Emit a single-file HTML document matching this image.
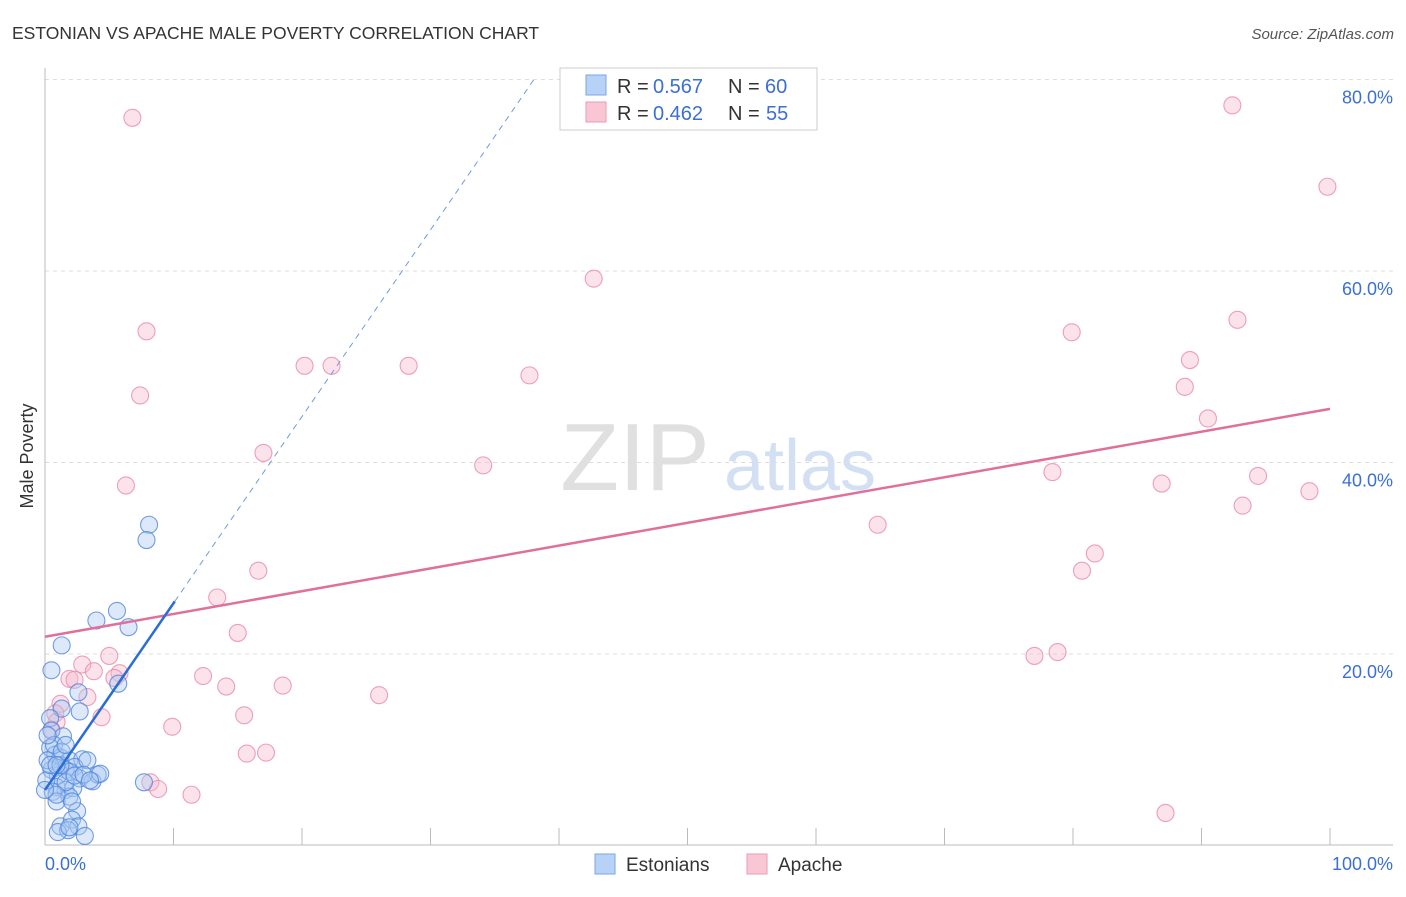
<!DOCTYPE html>
<html><head><meta charset="utf-8"><style>
body{margin:0;background:#fff;font-family:"Liberation Sans",sans-serif}
svg text{font-family:"Liberation Sans",sans-serif}
</style></head><body>
<svg id="c" width="1406" height="892" viewBox="0 0 1406 892">
<text x="12" y="39" font-size="17.5" fill="#333">ESTONIAN VS APACHE MALE POVERTY CORRELATION CHART</text>
<text x="1394" y="39" font-size="15" fill="#555" font-style="italic" text-anchor="end">Source: ZipAtlas.com</text>
<text x="33" y="456" font-size="18" fill="#333" text-anchor="middle" transform="rotate(-90 33 456)">Male Poverty</text>
<g><text x="635" y="490" font-size="96" fill="#e0e0e0" font-family="Liberation Serif" text-anchor="middle">ZIP</text><text x="800" y="490" font-size="72" fill="#d3e0f3" text-anchor="middle">atlas</text></g>
<g id="grid"></g><g id="axes"></g><g id="marks"></g>
<g>
<rect x="560" y="68" width="257" height="62" fill="#fff" stroke="#ccc"/>
<rect x="586" y="75" width="20" height="20" fill="#b8d2f5" stroke="#7aa6e8"/>
<rect x="586" y="102" width="20" height="20" fill="#f9c6d6" stroke="#ee99b6"/>
<text x="617" y="93" font-size="20" fill="#333">R = </text><text x="653" y="93" font-size="20" fill="#3b6fd4">0.567</text>
<text x="728" y="93" font-size="20" fill="#333">N = </text><text x="765" y="93" font-size="20" fill="#3b6fd4">60</text>
<text x="617" y="120" font-size="20" fill="#333">R = </text><text x="653" y="120" font-size="20" fill="#3b6fd4">0.462</text>
<text x="728" y="120" font-size="20" fill="#333">N = </text><text x="766" y="120" font-size="20" fill="#3b6fd4">55</text>
</g>
<g>
<rect x="595" y="854" width="20" height="20" fill="#b8d2f5" stroke="#7aa6e8"/>
<text x="626" y="871" font-size="19" fill="#333">Estonians</text>
<rect x="747" y="854" width="20" height="20" fill="#f9c6d6" stroke="#ee99b6"/>
<text x="778" y="871" font-size="19" fill="#333">Apache</text>
</g>
</svg>
<script>
const blueX=[0.5,1.3,4.0,5.6,6.5,8.1,7.9,2.6,2.7,5.7,1.3,0.4,0.5,1.4,0.4,0.8,1.2,1.9,2.9,2.3,1.6,0.5,1.0,1.9,2.7,3.7,4.1,0.9,1.6,2.2,0.6,1.9,0.9,2.5,1.2,2.1,2.6,1.8,1.0,3.1,7.7,0.2,0.1,0.4,3.3,1.2,1.6,0.7,0.2,1.3,2.3,3.0,0.9,1.9,4.3,0.9,0.0,1.6,3.5,2.1];
const blueY=[18.3,20.9,23.5,24.5,22.8,33.5,31.9,16.0,14.0,16.9,14.3,13.3,12.0,11.4,10.2,9.5,9.2,8.9,9.0,8.2,7.9,7.9,7.3,7.7,7.0,6.7,7.4,6.1,5.8,6.0,5.6,5.1,4.6,3.6,2.0,2.7,2.0,1.6,1.4,1.0,6.6,8.9,6.8,8.4,8.9,8.4,6.6,10.5,11.5,9.8,7.3,7.4,5.3,1.9,7.5,8.4,5.8,10.5,6.8,4.6];
const pinkX=[6.8,7.9,7.4,6.3,17.0,20.2,22.3,28.3,37.7,42.7,34.1,16.6,13.4,15.0,12.3,14.1,18.5,15.5,26.0,9.9,15.7,17.2,8.2,8.8,11.4,5.0,2.9,3.8,5.8,5.4,1.9,2.3,3.3,1.2,0.8,0.9,4.4,0.5,92.4,99.8,92.8,79.9,89.1,88.7,90.5,78.4,86.9,94.4,93.2,98.4,64.8,81.7,80.7,77.0,78.8,87.2];
const pinkY=[76.0,53.7,47.0,37.6,41.0,50.1,50.1,50.1,49.1,59.2,39.7,28.7,25.9,22.2,17.7,16.6,16.7,13.6,15.7,12.4,9.6,9.7,6.6,5.9,5.3,19.8,18.9,18.2,18.0,17.5,17.4,17.3,15.5,14.8,13.8,12.9,13.4,12.1,77.3,68.8,54.9,53.6,50.7,47.9,44.6,39.0,37.8,38.6,35.5,37.0,33.5,30.5,28.7,19.8,20.2,3.4];
const yTicks=[20,40,60,80];
const yTickLabels=["20.0%","40.0%","60.0%","80.0%"];
const blueFit=[5.8,1.95];
const pinkFit=[21.8,0.238];
const NS="http://www.w3.org/2000/svg";
const sx=v=>45+v*12.85, sy=v=>845.5-v*9.575;
function mk(p,t,a){const e=document.createElementNS(NS,t);for(const k in a)e.setAttribute(k,a[k]);p.appendChild(e);return e;}
const grid=document.getElementById('grid'),axes=document.getElementById('axes'),marks=document.getElementById('marks');
yTicks.forEach((t,i)=>{
 const l=mk(grid,'line',{x1:45,x2:1393,y1:sy(t),y2:sy(t),stroke:'#ddd','stroke-dasharray':'4,4'});
 
 
 const tx=mk(axes,'text',{x:1393,y:sy(t)+24,'font-size':18,fill:'#3b6fd4','text-anchor':'end'});
 tx.textContent=yTickLabels[i];
 
 
});
let a=mk(axes,'line',{x1:45,x2:45,y1:68,y2:845,stroke:'#bbb'});


a=mk(axes,'line',{x1:45,x2:1393,y1:845,y2:845,stroke:'#bbb'});


for(let k=1;k<=10;k++){const l=mk(axes,'line',{x1:sx(k*10),x2:sx(k*10),y1:828,y2:845,stroke:'#bbb'});
 
 }
let t=mk(axes,'text',{x:45,y:870,'font-size':18,fill:'#3b6fd4'});t.textContent='0.0%';


t=mk(axes,'text',{x:1393,y:870,'font-size':18,fill:'#3b6fd4','text-anchor':'end'});t.textContent='100.0%';


function dots(X,Y,f,s,n){X.forEach((x,i)=>{const c=mk(marks,'circle',{cx:sx(x),cy:sy(Y[i]),r:8.5,fill:f,'fill-opacity':0.4,stroke:s,'stroke-opacity':0.8,'stroke-width':1.1});
 
 });}
dots(pinkX,pinkY,'#f7b8cc','#e889a8','apache-point');
dots(blueX,blueY,'#a9c8f2','#4f86dc','estonian-point');
let ln=mk(marks,'line',{x1:sx(0),y1:sy(pinkFit[0]),x2:sx(100),y2:sy(pinkFit[0]+100*pinkFit[1]),stroke:'#e0709a','stroke-width':2.5});


ln=mk(marks,'line',{x1:sx(0),y1:sy(blueFit[0]),x2:sx(10.1),y2:sy(blueFit[0]+10.1*blueFit[1]),stroke:'#2a6dd4','stroke-width':2.5});


ln=mk(marks,'line',{x1:sx(10.1),y1:sy(blueFit[0]+10.1*blueFit[1]),x2:sx(38.1),y2:sy(blueFit[0]+38.1*blueFit[1]),stroke:'#6f9be0','stroke-width':1,'stroke-dasharray':'6,5'});


</script>
</body></html>
